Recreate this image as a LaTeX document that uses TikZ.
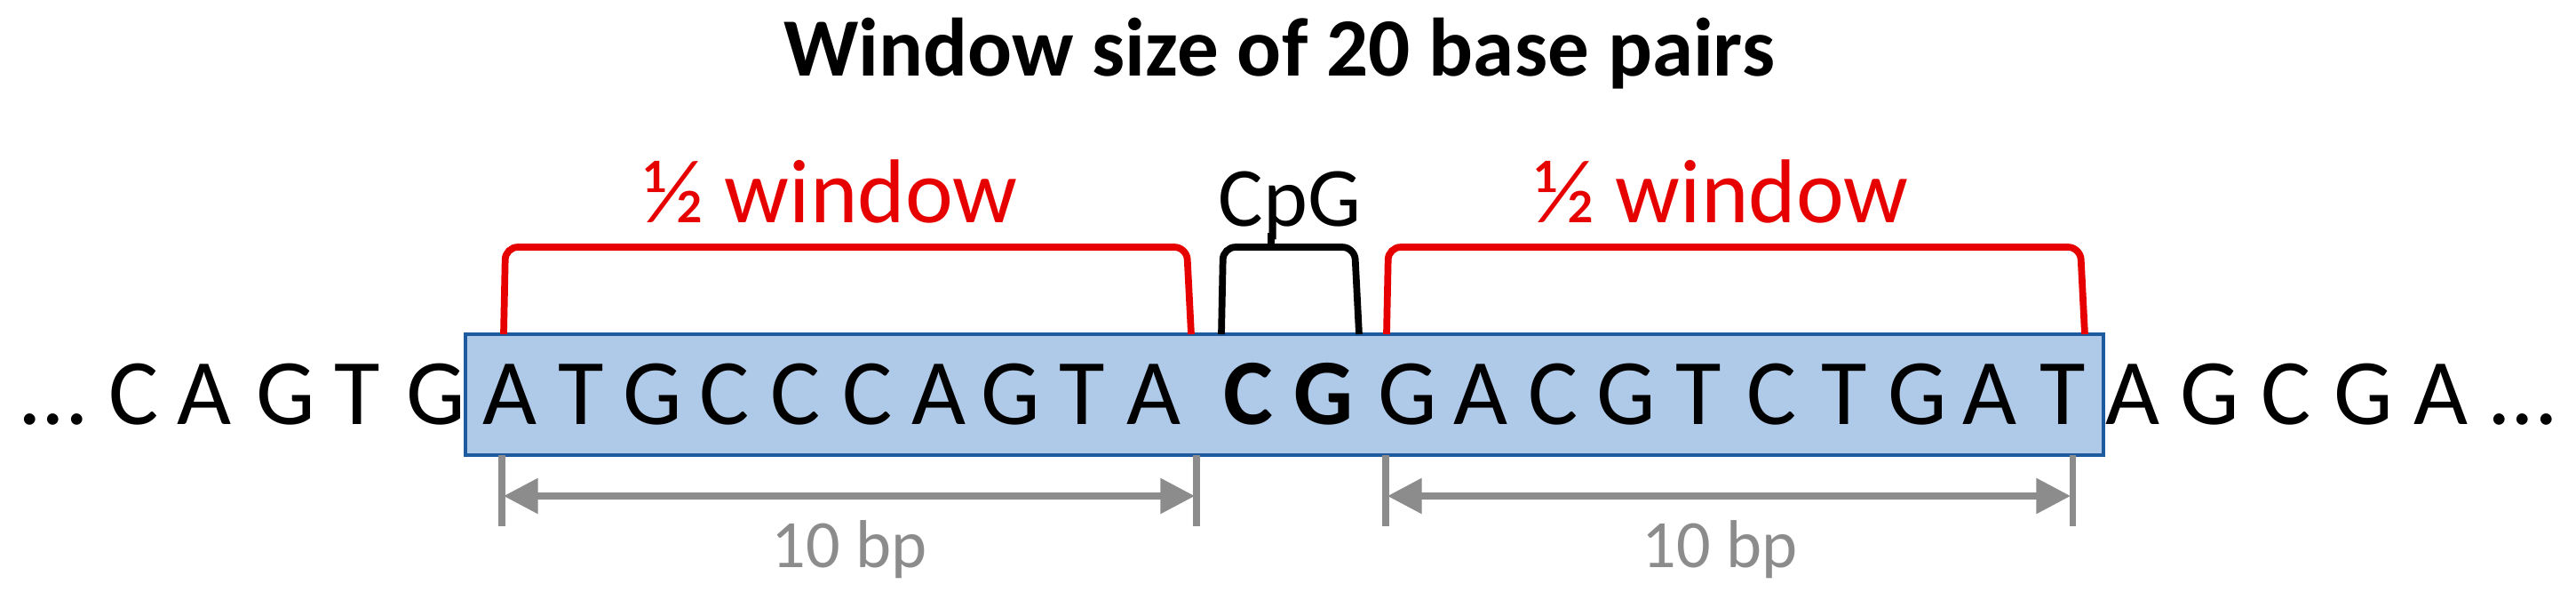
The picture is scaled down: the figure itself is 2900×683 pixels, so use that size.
\documentclass[tikz,border=0pt]{standalone}
\usepackage{fontspec}
\setmainfont{Carlito}
\usetikzlibrary{arrows.meta}
\definecolor{boxfill}{RGB}{175,201,232}
\definecolor{boxline}{RGB}{30,90,160}
\definecolor{redb}{RGB}{230,0,0}
\definecolor{grayd}{RGB}{140,140,140}
\tikzset{
  base/.style={font=\fontsize{30}{30}\selectfont, inner sep=0pt, anchor=base},
  redbr/.style={draw=redb, line width=2.2pt, rounded corners=4pt},
  blkbr/.style={draw=black, line width=2.2pt, rounded corners=4pt},
  dim/.style={draw=grayd, line width=2pt},
  dimarrow/.style={dim, {Triangle[length=11pt,width=11pt]}-{Triangle[length=11pt,width=11pt]}},
  lbl/.style={inner sep=0pt, anchor=base}
}
\begin{document}
\begin{tikzpicture}[x=0.1mm,y=-0.1mm]
\useasboundingbox (0,0) rectangle (2900,683);
\node[lbl, font=\fontsize{26.5}{26.5}\selectfont\bfseries] (title) at (1440,85) {Window size of 20 base pairs};
\node[draw=boxline, fill=boxfill, line width=1.2pt, minimum width=184.4mm, minimum height=13.6mm, inner sep=0pt] (win) at (1446,444) {};
% outside left
\foreach \x/\b [count=\i] in {60/{...},151/C,230/A,322/G,402/T,491/G}
  \node[base] (l\i) at (\x,477) {\b};
% inside
\foreach \b [count=\i] in {A,T,G,C,C,C,A,G,T,A}
  \node[base] (w\i) at ({574+(\i-1)*80.5},477) {\b};
\node[base,font=\fontsize{30}{30}\selectfont\bfseries] (c1) at (1405,477) {C};
\node[base,font=\fontsize{30}{30}\selectfont\bfseries] (g1) at (1490,477) {G};
\foreach \b [count=\i] in {G,A,C,G,T,C,T,G,A,T}
  \node[base] (v\i) at ({1585+(\i-1)*81.9},477) {\b};
% outside right
\foreach \x/\b [count=\i] in {2401/A,2488/G,2574/C,2661/G,2748/A,2840/{...}}
  \node[base] (r\i) at (\x,477) {\b};
% brackets
\coordinate (lb1) at (567,376); \coordinate (lb2) at (1341,376);
\coordinate (cb1) at (1375,376); \coordinate (cb2) at (1530,376);
\coordinate (rb1) at (1561,376); \coordinate (rb2) at (2347,376);
\draw[redbr] (lb1) -- (569,278) -- (1336,278) -- (lb2);
\draw[redbr] (rb1) -- (1563,278) -- (2342,278) -- (rb2);
\draw[blkbr] (cb1) -- (1377,278) -- (1525,278) -- (cb2);
\node[lbl, text=redb, font=\fontsize{29}{29}\selectfont] (h1) at (935,250) {½ window};
\node[lbl, text=redb, font=\fontsize{29}{29}\selectfont] (h2) at (1938,250) {½ window};
\node[lbl, font=\fontsize{27}{27}\selectfont] (cpg) at (1452,254) {CpG};
\draw[blkbr, rounded corners=0pt] (1431,278) -- (1431,262);
% dimensions
\coordinate (t1a) at (565,512); \coordinate (t1b) at (565,592);
\coordinate (t2a) at (1347,512); \coordinate (t2b) at (1347,592);
\coordinate (t3a) at (1560,512); \coordinate (t3b) at (1560,592);
\coordinate (t4a) at (2333,512); \coordinate (t4b) at (2333,592);
\draw[dim] (t1a) -- (t1b); \draw[dim] (t2a) -- (t2b);
\draw[dim] (t3a) -- (t3b); \draw[dim] (t4a) -- (t4b);
\draw[dimarrow] (567,558) -- (1345,558);
\draw[dimarrow] (1562,558) -- (2331,558);
\node[lbl, text=grayd, font=\fontsize{21.7}{21.7}\selectfont] (d1) at (956,638) {10 bp};
\node[lbl, text=grayd, font=\fontsize{21.7}{21.7}\selectfont] (d2) at (1936,638) {10 bp};
\end{tikzpicture}
\end{document}
